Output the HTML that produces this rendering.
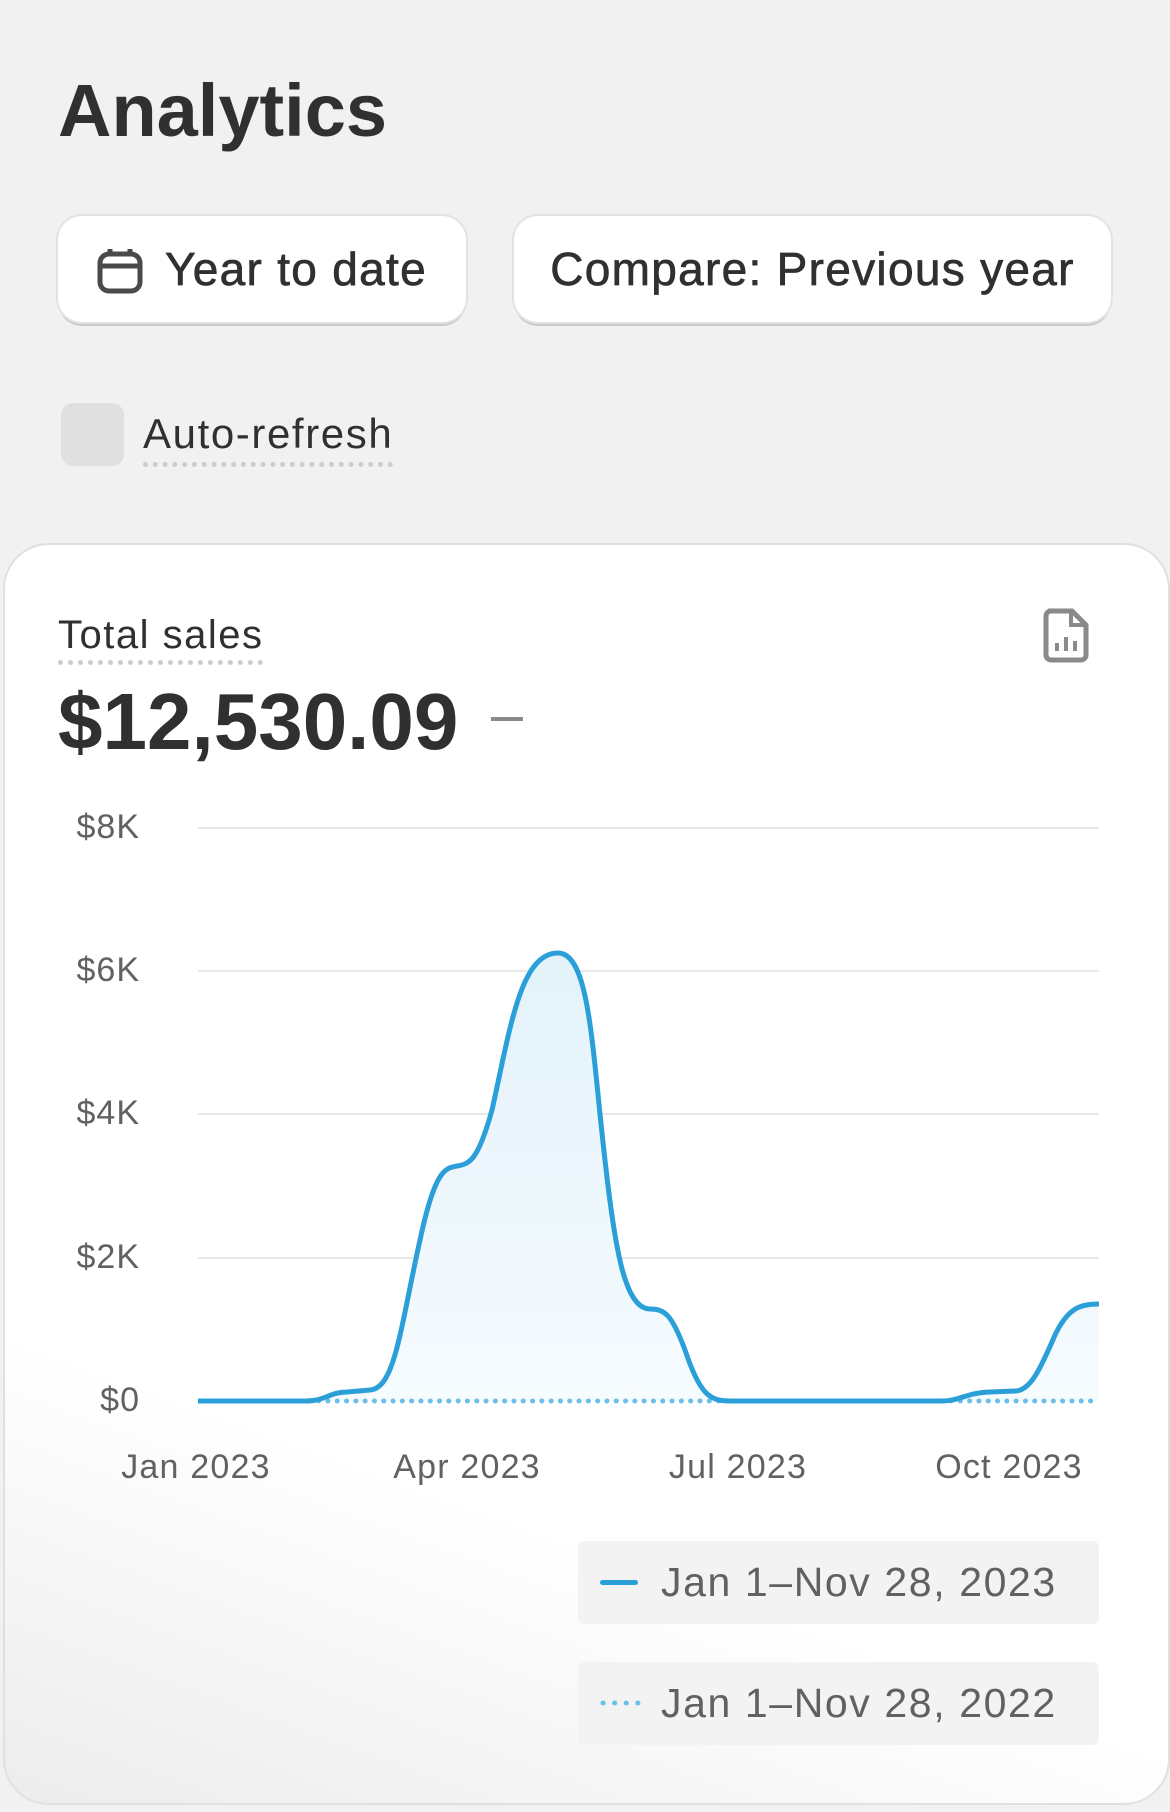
<!DOCTYPE html>
<html><head><meta charset="utf-8"><style>
body{margin:0;width:1170px;height:1812px;background:#f1f1f1;font-family:"Liberation Sans",sans-serif;overflow:hidden;position:relative}
.a{position:absolute}
.btn{position:absolute;top:216px;height:106px;background:#fff;border-radius:24px;box-shadow:0 0 0 2px #e3e3e3,0 4px 0 #c9c9c9;font-size:46px;color:#303030;line-height:106px;box-sizing:border-box;letter-spacing:1.3px;-webkit-text-stroke:0.7px #303030}
.leg{position:absolute;left:578px;width:521px;height:83px;background:#f3f3f3;border-radius:6px;font-size:41px;color:#616161;line-height:83px;letter-spacing:1.6px}
</style></head><body>
<div class="a" style="left:58px;top:68px;font-size:74px;font-weight:bold;color:#303030">Analytics</div>
<div class="btn" style="left:58px;width:408px;padding-left:107px">Year to date
<svg class="a" style="left:38px;top:31px" width="48" height="48" viewBox="0 0 48 48"><rect x="4" y="7" width="40" height="37" rx="9" fill="none" stroke="#4a4a4a" stroke-width="5"/><line x1="4" y1="19" x2="44" y2="19" stroke="#4a4a4a" stroke-width="5"/><line x1="14" y1="2" x2="14" y2="9" stroke="#4a4a4a" stroke-width="5"/><line x1="34" y1="2" x2="34" y2="9" stroke="#4a4a4a" stroke-width="5"/></svg></div>
<div class="btn" style="left:514px;width:597px;text-align:center">Compare: Previous year</div>
<div class="a" style="left:61px;top:403px;width:63px;height:63px;background:#e0e0e0;border-radius:12px"></div>
<div class="a" style="left:143px;top:410px;font-size:42px;color:#303030;border-bottom:5px dotted #ccc;padding-bottom:4px;letter-spacing:1.6px">Auto-refresh</div>
<div class="a" style="left:3px;top:543px;width:1163px;height:1258px;background:linear-gradient(200deg,#fff 72%,#ececec 100%);border:2px solid #e0e0e0;border-radius:46px"></div>
<div class="a" style="left:58px;top:613px;font-size:40px;color:#303030;border-bottom:5px dotted #ccc;padding-bottom:2px;letter-spacing:1.5px">Total sales</div>
<div class="a" style="left:58px;top:676px;font-size:80px;font-weight:bold;color:#303030">$12,530.09</div>
<div class="a" style="left:491px;top:717px;width:32px;height:4px;background:#8a8a8a"></div>
<svg class="a" style="left:1042px;top:607px" width="48" height="56" viewBox="0 0 48 56"><path d="M6 4h24l14 14v30a5 5 0 0 1-5 5H9a5 5 0 0 1-5-5V9a5 5 0 0 1 5-5z" fill="none" stroke="#8a8a8a" stroke-width="5"/><path d="M29 4v14h15" fill="none" stroke="#8a8a8a" stroke-width="4"/><line x1="15" y1="36" x2="15" y2="44" stroke="#8a8a8a" stroke-width="4"/><line x1="24" y1="30" x2="24" y2="44" stroke="#8a8a8a" stroke-width="4"/><line x1="33" y1="34" x2="33" y2="44" stroke="#8a8a8a" stroke-width="4"/></svg>
<svg class="a" style="left:0;top:0" width="1170" height="1812">
<g stroke="#e8e8e8" stroke-width="2"><line x1="198" y1="828" x2="1099" y2="828"/><line x1="198" y1="971" x2="1099" y2="971"/><line x1="198" y1="1114" x2="1099" y2="1114"/><line x1="198" y1="1258" x2="1099" y2="1258"/></g>
<g font-size="34" fill="#616161" text-anchor="end" letter-spacing="1"><text x="140" y="838">$8K</text><text x="140" y="981">$6K</text><text x="140" y="1124">$4K</text><text x="140" y="1268">$2K</text><text x="140" y="1411">$0</text></g>
<g font-size="34" fill="#616161" text-anchor="middle" letter-spacing="1.2"><text x="196" y="1478">Jan 2023</text><text x="467" y="1478">Apr 2023</text><text x="738" y="1478">Jul 2023</text><text x="1009" y="1478">Oct 2023</text></g>
<defs><linearGradient id="g" x1="0" y1="0" x2="0" y2="1"><stop offset="0" stop-color="#e3f2fa"/><stop offset="1" stop-color="#f6fbfe"/></linearGradient></defs>
<path d="M198 1401L306 1401C325 1401 330 1392 347 1392L370 1390C395 1388 400 1330 420 1240C435 1170 445 1168 457 1166C470 1164 478 1160 492 1110C510 1030 520 953 558 953C590 953 592 1050 605 1160C615 1250 625 1309 650 1309C665 1309 672 1315 685 1350C700 1395 710 1401 730 1401L942 1401C960 1401 965 1393 990 1392L1015 1391C1030 1391 1040 1370 1055 1335C1068 1308 1080 1304 1099 1304L1099 1401Z" fill="url(#g)"/>
<line x1="300" y1="1401" x2="1099" y2="1401" stroke="#6cc0e8" stroke-width="5" stroke-dasharray="0.1 9.2" stroke-linecap="round"/>
<path d="M198 1401L306 1401C325 1401 330 1392 347 1392L370 1390C395 1388 400 1330 420 1240C435 1170 445 1168 457 1166C470 1164 478 1160 492 1110C510 1030 520 953 558 953C590 953 592 1050 605 1160C615 1250 625 1309 650 1309C665 1309 672 1315 685 1350C700 1395 710 1401 730 1401L942 1401C960 1401 965 1393 990 1392L1015 1391C1030 1391 1040 1370 1055 1335C1068 1308 1080 1304 1099 1304" fill="none" stroke="#2a9fd8" stroke-width="5" stroke-linejoin="round"/>
</svg>
<div class="leg" style="top:1541px;padding-left:83px;box-sizing:border-box">Jan 1–Nov 28, 2023<div class="a" style="left:22px;top:39px;width:38px;height:5px;border-radius:3px;background:#2a9fd8"></div></div>
<div class="leg" style="top:1662px;padding-left:83px;box-sizing:border-box">Jan 1–Nov 28, 2022<svg class="a" style="left:20px;top:36px" width="44" height="10"><line x1="5" y1="5" x2="40" y2="5" stroke="#6cc0e8" stroke-width="5" stroke-dasharray="0.1 11.5" stroke-linecap="round"/></svg></div>
</body></html>
